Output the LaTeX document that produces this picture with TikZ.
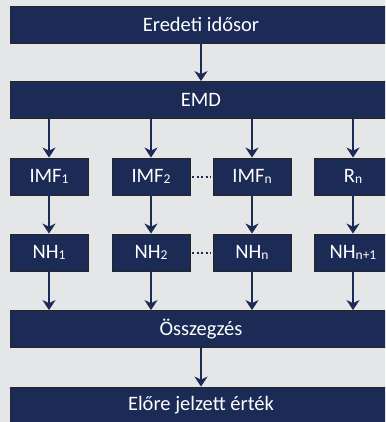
\documentclass[tikz,border=0pt]{standalone}
\usepackage{fontspec}
\setmainfont{Carlito}
\usetikzlibrary{arrows.meta}
\definecolor{navyblue}{RGB}{27,43,86}
\definecolor{bggray}{RGB}{229,230,232}
\newcommand{\lowsub}[1]{\raisebox{-1.5pt}{\fontsize{13.5}{14}\selectfont #1}}

\begin{document}
\begin{tikzpicture}[x=1pt,y=-1pt,
        box/.style={fill=navyblue,draw=black!85,line width=0.8pt,text=white,inner sep=0pt,
            minimum height=37pt,font=\fontsize{20.5}{24}\selectfont},
        widebox/.style={box,minimum width=382pt},
        smallbox/.style={box,minimum width=78pt},
        flow/.style={draw=navyblue,line width=2pt,-{Stealth[length=10pt,width=13pt,inset=3pt]}},
        dots/.style={draw=navyblue,line width=2pt,dash pattern=on 2pt off 2.4pt,
            shorten <=2pt,shorten >=2pt}]
        \useasboundingbox (0,0) rectangle (385,422);
        \fill[bggray] (0,0) rectangle (385,422);
        \clip (0,0) rectangle (385,422);

        \node[widebox] (orig) at (201,24.5) {Eredeti idősor};
        \node[widebox] (emd) at (201,100) {EMD};

        \node[smallbox] (imf1) at (49,176.5) {IMF\lowsub{1}};
        \node[smallbox] (imf2) at (151,176.5) {IMF\lowsub{2}};
        \node[smallbox] (imfn) at (252,176.5) {IMF\lowsub{n}};
        \node[smallbox] (rn) at (353,176.5) {R\lowsub{n}};

        \node[smallbox] (nh1) at (49,252.5) {NH\lowsub{1}};
        \node[smallbox] (nh2) at (151,252.5) {NH\lowsub{2}};
        \node[smallbox] (nhn) at (252,252.5) {NH\lowsub{n}};
        \node[smallbox] (nhm) at (353,252.5) {NH\lowsub{n+1}};

        \node[widebox] (sum) at (201,329) {Összegzés};
        \node[widebox] (pred) at (201,405.5) {Előre jelzett érték};

        \draw[flow] (orig) -- (emd);

        \draw[flow] (emd.south -| imf1) -- (imf1);
        \draw[flow] (emd.south -| imf2) -- (imf2);
        \draw[flow] (emd.south -| imfn) -- (imfn);
        \draw[flow] (emd.south -| rn) -- (rn);

        \draw[flow] (imf1) -- (nh1);
        \draw[flow] (imf2) -- (nh2);
        \draw[flow] (imfn) -- (nhn);
        \draw[flow] (rn) -- (nhm);

        \draw[dots] (imf2) -- (imfn);
        \draw[dots] (nh2) -- (nhn);

        \draw[flow] (nh1) -- (sum.north -| nh1);
        \draw[flow] (nh2) -- (sum.north -| nh2);
        \draw[flow] (nhn) -- (sum.north -| nhn);
        \draw[flow] (nhm) -- (sum.north -| nhm);

        \draw[flow] (sum) -- (pred);
\end{tikzpicture}
\end{document}
